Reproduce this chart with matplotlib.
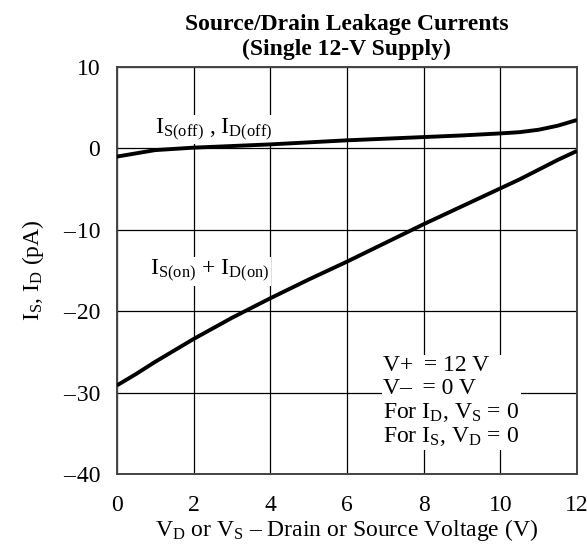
import matplotlib
matplotlib.use("Agg")
import matplotlib.pyplot as plt

volts = [0, 0.5, 1, 2, 3, 4, 5, 6, 7, 8, 9, 10, 10.5, 11, 11.5, 12]
i_off = [-1.0, -0.6, -0.2, 0.1, 0.3, 0.5, 0.75, 1.0, 1.2, 1.4, 1.6, 1.85, 2.0, 2.3, 2.8, 3.5]
i_on = [-29.1, -27.7, -26.2, -23.4, -20.8, -18.4, -16.1, -13.9, -11.6, -9.3, -7.1, -4.9, -3.8, -2.6, -1.4, -0.3]
xticks = [0, 2, 4, 6, 8, 10, 12]
yticks = [-40, -30, -20, -10, 0, 10]

plt.rcParams['font.family'] = ['Liberation Serif', 'DejaVu Serif']
plt.rcParams['mathtext.fontset'] = 'custom'
plt.rcParams['mathtext.rm'] = 'Liberation Serif'
plt.rcParams['mathtext.it'] = 'Liberation Serif:italic'

fs = 17

fig = plt.figure(figsize=(5.87, 5.54), dpi=100)
ax = fig.add_axes([0.199, 0.144, 0.784, 0.735])

ax.plot(volts, i_off, color='black', lw=2.8, solid_capstyle='butt', zorder=3)
ax.plot(volts, i_on, color='black', lw=2.8, solid_capstyle='butt', zorder=3)

ax.set_xlim(0, 12)
ax.set_ylim(-40, 10)
ax.set_xticks(xticks)
ax.set_yticks(yticks)
ax.set_yticklabels([('\u2013\u200a' + str(-v)) if v < 0 else str(v) for v in yticks])
ax.grid(True, color='black', lw=0.9)
ax.tick_params(length=0, labelsize=fs)
ax.tick_params(axis='y', pad=12)
ax.tick_params(axis='x', pad=15)
for s in ax.spines.values():
    s.set_color('#444444')
    s.set_linewidth(1.4)

bg = dict(facecolor='white', edgecolor='none', pad=1)
ax.text(1.0, 1.8, r'$\mathregular{I_{S(off)}}$ , $\mathregular{I_{D(off)}}$',
        fontsize=fs, va='baseline', ha='left', bbox=bg, zorder=2)
ax.text(0.86, -15.6, r'$\mathregular{I_{S(on)}}$ + $\mathregular{I_{D(on)}}$',
        fontsize=fs, va='baseline', ha='left', bbox=bg, zorder=2)
ax.text(6.95, -25.4,
        'V+\u2009 = 12 V\nV\u2013\u2009 = 0 V\n'
        r'For $\mathregular{I_D}$, $\mathregular{V_S}$ = 0' '\n'
        r'For $\mathregular{I_S}$, $\mathregular{V_D}$ = 0',
        fontsize=fs, va='top', ha='left', linespacing=1.1, bbox=bg, zorder=2)

ax.set_title('Source/Drain Leakage Currents\n(Single 12-V Supply)',
             fontsize=fs, fontweight='bold', pad=9, linespacing=1.2)
ax.set_xlabel(r'$\mathregular{V_D}$ or $\mathregular{V_S}$ ' '\u2013' ' Drain or Source Voltage (V)',
              fontsize=fs, labelpad=1)
ax.set_ylabel(r'$\mathregular{I_S}$, $\mathregular{I_D}$ (pA)', fontsize=fs, labelpad=12)

fig.savefig('out.png', dpi=100)
